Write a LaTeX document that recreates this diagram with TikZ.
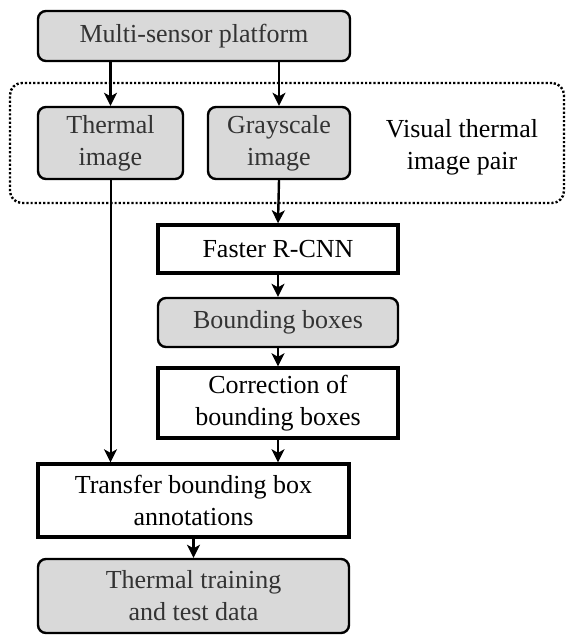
\documentclass[tikz,border=0pt]{standalone}
\usepackage{fontspec}
\setmainfont{Liberation Serif}
\usetikzlibrary{arrows.meta}
\definecolor{boxgray}{HTML}{D9D9D9}
\definecolor{textgray}{HTML}{333333}
\tikzset{
  graybox/.style = {draw, line width=2.4pt, fill=boxgray, rounded corners=8pt,
    text=textgray, align=center, inner sep=0pt},
  whitebox/.style = {draw, line width=3.4pt, fill=white, align=center, inner sep=0pt},
  arr/.style = {line width=2.4pt, -{Stealth[length=13pt,width=13pt,inset=3.5pt]}}
}
\begin{document}
\begin{tikzpicture}[x=1pt, y=-1pt, font=\rmfamily\fontsize{26}{32}\selectfont]
  \useasboundingbox (0,0) rectangle (572,638);
  % image pair
  \node at (287,143) (pairbox) [draw, line width=2.4pt, dash pattern=on 2.2pt off 2pt,
    rounded corners=12pt, minimum width=554pt, minimum height=120pt] {};
  \node at (462,147) (pair) [align=center] {Visual thermal\\image pair};
  % top
  \node at (194,36) (platform) [graybox, minimum width=312pt, minimum height=50pt] {Multi-sensor platform};
  \node at (110.5,143) (thermal) [graybox, minimum width=145pt, minimum height=72pt] {Thermal\\image};
  \node at (279,143) (gray) [graybox, minimum width=142pt, minimum height=72pt] {Grayscale\\image};
  % detection
  \node at (278,249) (faster) [whitebox, minimum width=240pt, minimum height=48pt] {Faster R-CNN};
  \node at (278,322.5) (bbox) [graybox, minimum width=240pt, minimum height=49pt] {Bounding boxes};
  \node at (278,403) (corr) [whitebox, minimum width=240pt, minimum height=70pt] {Correction of\\bounding boxes};
  % bottom
  \node at (193.5,500.5) (transfer) [whitebox, minimum width=311pt, minimum height=73pt] {Transfer bounding box\\annotations};
  \node at (193.5,596) (train) [graybox, minimum width=311pt, minimum height=74pt] {Thermal training\\and test data};
  % arrows
  \draw[arr] (platform.south -| thermal) -- (thermal.north);
  \draw[arr] (platform.south -| gray) -- (gray.north);
  \draw[arr] (gray.south) -- (faster.north);
  \draw[arr] (faster.south) -- (bbox.north);
  \draw[arr] (bbox.south) -- (corr.north);
  \draw[arr, line width=2pt] (thermal.south) -- (thermal.south |- transfer.north);
  \draw[arr] (corr.south) -- (corr.south |- transfer.north);
  \draw[arr] (transfer.south) -- (train.north);
\end{tikzpicture}
\end{document}
